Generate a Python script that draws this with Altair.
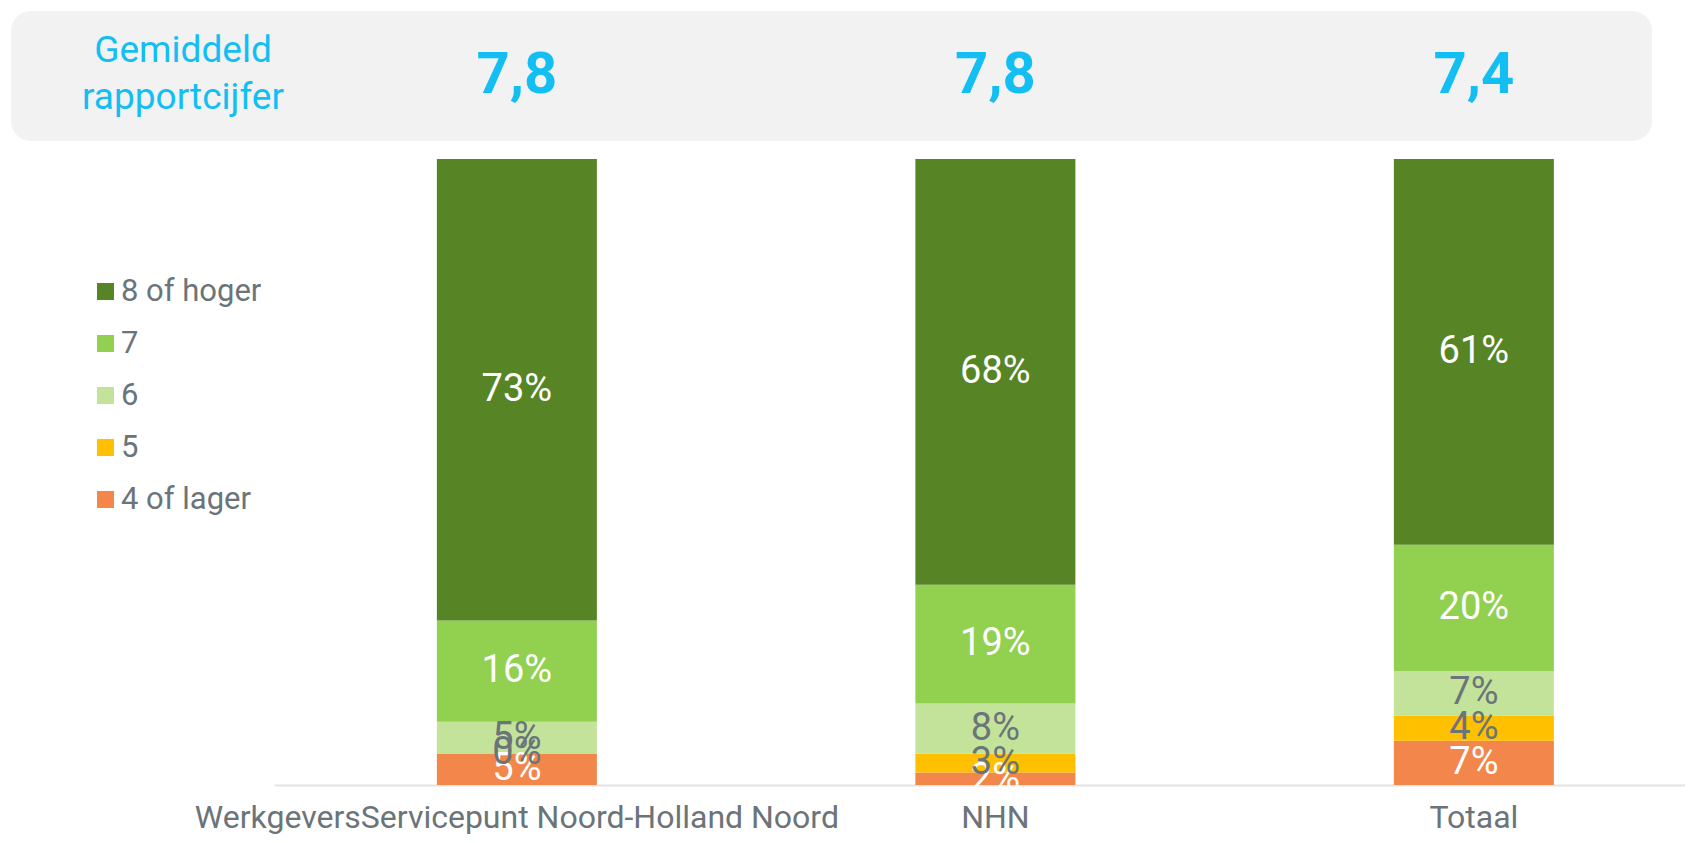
import altair as alt
import pandas as pd

# ---- data ----
categories = ["WerkgeversServicepunt Noord-Holland Noord", "NHN", "Totaal"]
series = ["8 of hoger", "7", "6", "5", "4 of lager"]
v_8_hoger = [73, 68, 61]
v_7 = [16, 19, 20]
v_6 = [5, 8, 7]
v_5 = [0, 3, 4]
v_4_lager = [5, 2, 7]
averages = ["7,8", "7,8", "7,4"]
header_label = ["Gemiddeld", "rapportcijfer"]

# ---- styles ----
colors = ["#578526", "#92D050", "#C3E39B", "#FFC000", "#F3864B"]
gray = "#6B7479"
blue = "#12BEF2"
FONT = "Roboto"

values_by_series = {
    "8 of hoger": v_8_hoger,
    "7": v_7,
    "6": v_6,
    "5": v_5,
    "4 of lager": v_4_lager,
}
stack_rank = {"4 of lager": 0, "5": 1, "6": 2, "7": 3, "8 of hoger": 4}

rows = []
for s in ["4 of lager", "5", "6", "7", "8 of hoger"]:
    for c, v in zip(categories, values_by_series[s]):
        rows.append({"cat": c, "grp": s, "v": v, "ord": stack_rank[s]})
df = pd.DataFrame(rows)
df_avg = pd.DataFrame({"cat": categories, "avg": averages})
df_one = pd.DataFrame({"k": [0]})

x_enc = alt.X(
    "cat:N",
    sort=categories,
    scale=alt.Scale(paddingInner=0.6656, paddingOuter=0.3072, align=0.554),
    axis=alt.Axis(
        title=None,
        labelAngle=0,
        labelAlign="center",
        labelBaseline="alphabetic",
        ticks=False,
        tickSize=0,
        labelPadding=42,
        labelFont=FONT,
        labelFontSize=32,
        labelColor=gray,
        labelLimit=2000,
        labelOverlap=False,
        domainColor="#E3E3E3",
        domainWidth=2,
        grid=False,
    ),
)

base = alt.Chart(df).transform_stack(
    stack="v",
    groupby=["cat"],
    offset="normalize",
    sort=[alt.SortField("ord", order="ascending")],
    as_=["y0", "y1"],
).transform_calculate(
    mid="(datum.y0 + datum.y1) / 2",
    lbl="datum.v + '%'",
)

bars = base.mark_bar().encode(
    x=x_enc,
    y=alt.Y("y0:Q", scale=alt.Scale(domain=[0, 1]), axis=None),
    y2="y1:Q",
    color=alt.Color(
        "grp:N",
        scale=alt.Scale(domain=series, range=colors),
        legend=alt.Legend(
            title=None,
            orient="none",
            legendX=-184,
            legendY=117,
            symbolType="square",
            symbolSize=289,
            symbolStrokeWidth=0,
            labelFont=FONT,
            labelFontSize=31,
            labelColor=gray,
            labelOffset=0,
            rowPadding=20,
        ),
    ),
)

labels = base.mark_text(font=FONT, fontSize=38, baseline="middle").encode(
    x=alt.X("cat:N", sort=categories),
    y=alt.Y("mid:Q"),
    text="lbl:N",
    color=alt.condition(
        "datum.grp == '6' || datum.grp == '5'", alt.value(gray), alt.value("white")
    ),
)

box = alt.Chart(df_one).mark_rect(cornerRadius=20, color="#F2F2F2").encode(
    x=alt.value(-263), x2=alt.value(1378), y=alt.value(-148), y2=alt.value(-18)
)

head_label = alt.Chart(df_one).mark_text(
    text=header_label,
    font=FONT,
    fontSize=37,
    color=blue,
    lineHeight=47,
    baseline="middle",
    align="center",
).encode(x=alt.value(-91), y=alt.value(-108))

head_vals = alt.Chart(df_avg).mark_text(
    font=FONT, fontSize=58, fontWeight="bold", color=blue, baseline="middle"
).encode(
    x=alt.X("cat:N", sort=categories),
    y=alt.value(-83),
    text="avg:N",
)

chart = (
    alt.layer(box, head_label, head_vals, bars, labels)
    .properties(
        width=1411,
        height=626,
        autosize=alt.AutoSizeParams(type="none"),
        padding={"left": 266, "top": 151, "right": 0, "bottom": 50},
    )
    .configure_view(stroke=None)
)

chart.save("out.html", embed_options={"renderer": "svg", "actions": False})
